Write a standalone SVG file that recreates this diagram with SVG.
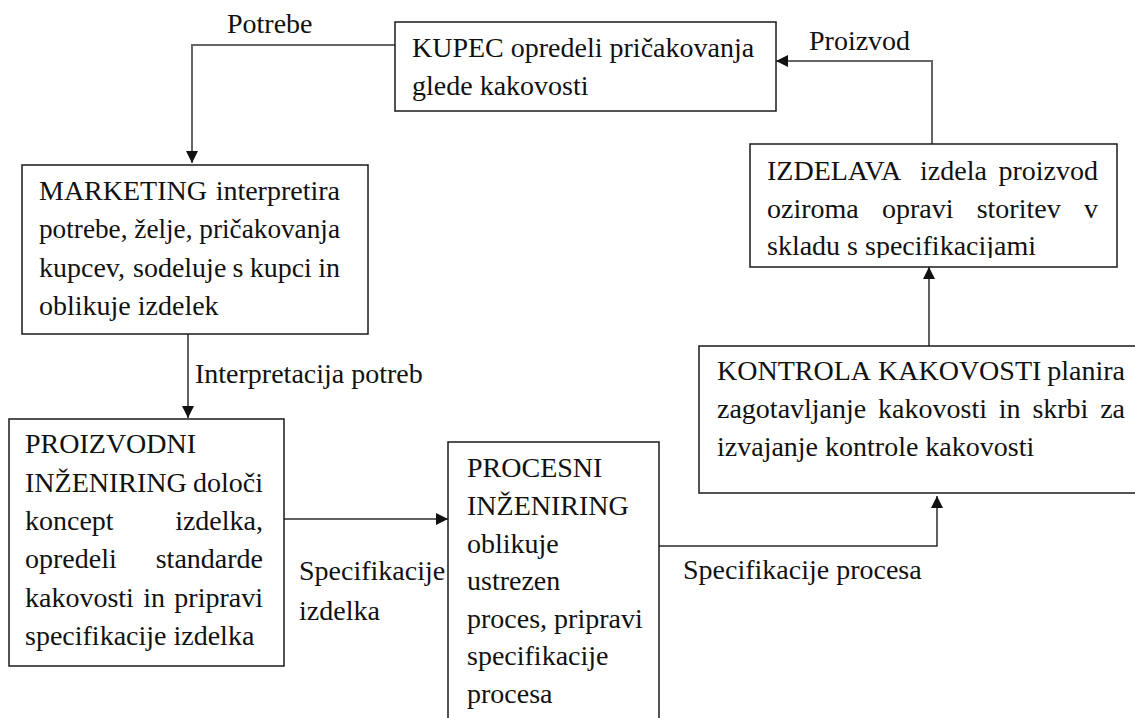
<svg xmlns="http://www.w3.org/2000/svg" width="1135" height="718" viewBox="0 0 1135 718">
<style>
  .box { fill: #ffffff; stroke: #1a1a1a; stroke-width: 1.5; }
  .t { font-family: "Liberation Serif", "Times New Roman", serif; font-size: 28px; fill: #111111; }
  .e { text-anchor: end; }
  .conn { fill: none; stroke: #2b2b2b; stroke-width: 1.5; }
  .grey { stroke: #666666; stroke-width: 2; }
</style>
<defs>
  <marker id="arr" viewBox="0 0 12 12" markerWidth="12" markerHeight="12" markerUnits="userSpaceOnUse" refX="12" refY="6" orient="auto">
    <path d="M0,0 L12,6 L0,12 Z" fill="#111111"/>
  </marker>
  <clipPath id="clipIzd">
    <rect x="750" y="144" width="367" height="114"/>
  </clipPath>
</defs>
<rect width="1135" height="718" fill="#ffffff"/>

<g id="connectors">
  <path class="conn grey" d="M395,45 L192,45 L192,163" marker-end="url(#arr)"/>
  <path class="conn" d="M188,334 L188,418" marker-end="url(#arr)"/>
  <path class="conn" d="M284,519 L448,519" marker-end="url(#arr)"/>
  <path class="conn" d="M659,546 L937,546 L937,496" marker-end="url(#arr)"/>
  <path class="conn" d="M929,346 L929,267" marker-end="url(#arr)"/>
  <path class="conn grey" d="M932,144 L932,61 L776,61" marker-end="url(#arr)"/>
  <text class="t" x="227" y="33">Potrebe</text>
  <text class="t" x="809" y="50">Proizvod</text>
  <text class="t" x="195" y="383">Interpretacija potreb</text>
  <text class="t" x="299" y="580">Specifikacije</text>
  <text class="t" x="299" y="620">izdelka</text>
  <text class="t" x="683" y="579">Specifikacije procesa</text>
</g>

<g id="kupec">
  <rect class="box" x="395" y="22" width="381" height="89"/>
  <text class="t" x="412" y="57">KUPEC opredeli pričakovanja</text>
  <text class="t" x="412" y="95">glede kakovosti</text>
</g>

<g id="marketing">
  <rect class="box" x="22" y="165" width="346" height="169"/>
  <text class="t" y="200"><tspan x="39">MARKETING</tspan><tspan class="e" x="340">interpretira</tspan></text>
  <text class="t" x="39" y="238" textLength="301" lengthAdjust="spacingAndGlyphs">potrebe, želje, pričakovanja</text>
  <text class="t" y="277"><tspan x="39">kupcev,</tspan><tspan x="133">sodeluje</tspan><tspan x="232.6">s</tspan><tspan x="249.7">kupci</tspan><tspan class="e" x="340">in</tspan></text>
  <text class="t" x="39" y="315">oblikuje izdelek</text>
</g>

<g id="proizvodni">
  <rect class="box" x="9" y="419" width="275" height="247"/>
  <text class="t" x="25" y="453">PROIZVODNI</text>
  <text class="t" y="492"><tspan x="25">INŽENIRING</tspan><tspan class="e" x="263">določi</tspan></text>
  <text class="t" y="530"><tspan x="25">koncept</tspan><tspan class="e" x="263">izdelka,</tspan></text>
  <text class="t" y="568"><tspan x="25">opredeli</tspan><tspan class="e" x="263">standarde</tspan></text>
  <text class="t" y="607"><tspan x="25">kakovosti</tspan><tspan x="143.3">in</tspan><tspan class="e" x="263">pripravi</tspan></text>
  <text class="t" x="25" y="645">specifikacije izdelka</text>
</g>

<g id="procesni">
  <rect class="box" x="448" y="442" width="211" height="300"/>
  <text class="t" x="467" y="477">PROCESNI</text>
  <text class="t" x="467" y="515">INŽENIRING</text>
  <text class="t" x="467" y="553">oblikuje</text>
  <text class="t" x="467" y="590">ustrezen</text>
  <text class="t" x="467" y="628">proces, pripravi</text>
  <text class="t" x="467" y="665">specifikacije</text>
  <text class="t" x="467" y="703">procesa</text>
</g>

<g id="kontrola">
  <rect class="box" x="699" y="346" width="450" height="147"/>
  <text class="t" y="380"><tspan x="717">KONTROLA</tspan><tspan x="878">KAKOVOSTI</tspan><tspan class="e" x="1125">planira</tspan></text>
  <text class="t" y="418"><tspan x="717">zagotavljanje</tspan><tspan x="878.1">kakovosti</tspan><tspan x="998.8">in</tspan><tspan x="1032.4">skrbi</tspan><tspan class="e" x="1125">za</tspan></text>
  <text class="t" x="717" y="456">izvajanje kontrole kakovosti</text>
</g>

<g id="izdelava">
  <rect class="box" x="750" y="144" width="367" height="123"/>
  <text class="t" y="180"><tspan x="767">IZDELAVA</tspan><tspan x="920.1">izdela</tspan><tspan class="e" x="1098">proizvod</tspan></text>
  <text class="t" y="218"><tspan x="767">oziroma</tspan><tspan x="882">opravi</tspan><tspan x="976.7">storitev</tspan><tspan class="e" x="1098">v</tspan></text>
  <text class="t" x="767" y="255" clip-path="url(#clipIzd)">skladu s specifikacijami</text>
</g>
</svg>
